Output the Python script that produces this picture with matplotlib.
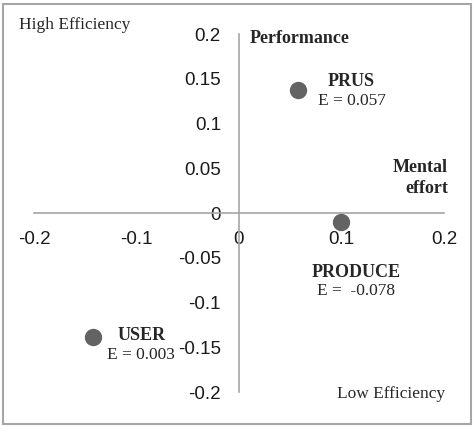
import matplotlib.pyplot as plt
from matplotlib.patches import Rectangle

# data
names = ["PRUS", "PRODUCE", "USER"]
e_labels = ["E = 0.057", "E =  -0.078", "E = 0.003"]
x_vals = [0.058, 0.100, -0.142]
y_vals = [0.138, -0.010, -0.139]
x_ticks = [-0.2, -0.1, 0, 0.1, 0.2]
y_ticks = [-0.2, -0.15, -0.1, -0.05, 0, 0.05, 0.1, 0.15, 0.2]

fig = plt.figure(figsize=(4.75, 4.28), dpi=100)
ax = fig.add_axes([0.0716, 0.0841, 0.863, 0.8364])

ax.plot(x_vals, y_vals, "o", color="#636363", markersize=11.5, linestyle="none")

ax.set_xlim(-0.2, 0.2)
ax.set_ylim(-0.2, 0.2)
ax.spines["left"].set_position("zero")
ax.spines["bottom"].set_position("zero")
ax.spines["top"].set_visible(False)
ax.spines["right"].set_visible(False)
for s in ["left", "bottom"]:
    ax.spines[s].set_color("#a6a6a6")
    ax.spines[s].set_linewidth(1.2)

ax.set_xticks(x_ticks)
ax.set_xticklabels([f"{v:g}" for v in x_ticks])
ax.set_yticks(y_ticks)
ax.set_yticklabels([f"{v:g}" for v in y_ticks])
ax.tick_params(axis="x", length=0, pad=13, labelsize=13.5, labelcolor="#1a1a1a")
ax.tick_params(axis="y", length=0, pad=13, labelsize=13.5, labelcolor="#1a1a1a")
for lab in ax.get_xticklabels() + ax.get_yticklabels():
    lab.set_fontfamily("Liberation Sans")

serif = "Liberation Serif"
txt = "#262626"
# point labels
ax.text(0.109, 0.1475, names[0], family=serif, fontsize=13, fontweight="bold", ha="center", va="center", color=txt)
ax.text(0.110, 0.125, e_labels[0], family=serif, fontsize=12.5, ha="center", va="center", color=txt)
ax.text(0.114, -0.066, names[1], family=serif, fontsize=13, fontweight="bold", ha="center", va="center", color=txt)
ax.text(0.114, -0.087, e_labels[1], family=serif, fontsize=12.5, ha="center", va="center", color=txt)
ax.text(-0.095, -0.1374, names[2], family=serif, fontsize=13, fontweight="bold", ha="center", va="center", color=txt)
ax.text(-0.0955, -0.1587, e_labels[2], family=serif, fontsize=12.5, ha="center", va="center", color=txt)

# axis captions
ax.text(0.0107, 0.1955, "Performance", family=serif, fontsize=13, fontweight="bold", ha="left", va="center", color=txt)
ax.text(0.204, 0.039, "Mental\neffort", family=serif, fontsize=13, fontweight="bold",
        ha="right", va="center", multialignment="right", linespacing=1.25, color=txt)
ax.text(0.201, -0.202, "Low Efficiency", family=serif, fontsize=12.5, ha="right", va="center", color=txt)
fig.text(19 / 475, 1 - 25 / 428, "High Efficiency", family=serif, fontsize=12.5, ha="left", va="center", color=txt)

fig.patches.append(Rectangle((3 / 475, 4 / 428), 468 / 475, 420 / 428, transform=fig.transFigure,
                             fill=False, edgecolor="#a6a6a6", linewidth=1.5))

fig.savefig("out.png", dpi=100)
